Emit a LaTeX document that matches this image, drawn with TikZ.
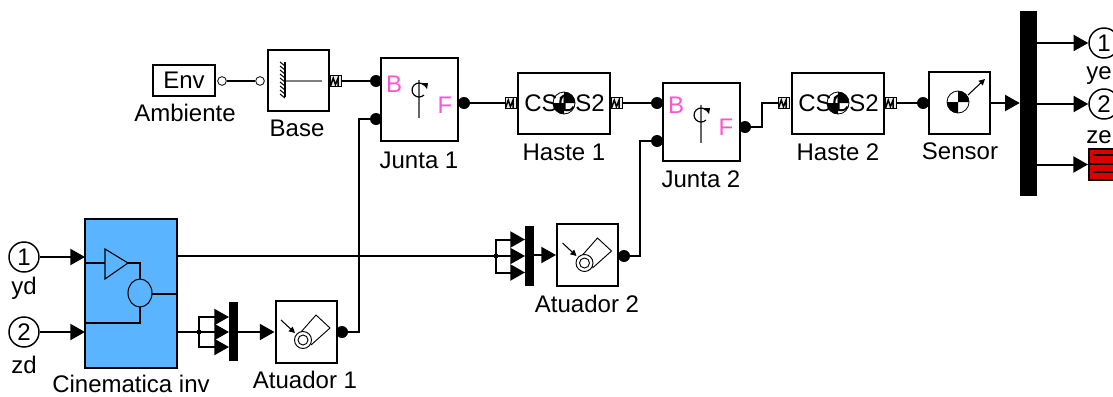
\documentclass[tikz,border=0pt]{standalone}
\usepackage{fontspec}
\setmainfont{Liberation Sans}
\usetikzlibrary{arrows.meta}
\definecolor{azulbloco}{RGB}{90,180,255}
\definecolor{rosa}{RGB}{255,85,205}
\definecolor{vermelho}{RGB}{220,0,0}
\tikzset{
	fio/.style={line width=1.5pt},
	seta/.style={fio,-{Triangle[length=11pt,width=12pt]}},
	setinha/.style={line width=0.8pt,-{Triangle[length=4.5pt,width=4.5pt]}},
	bloco/.style 2 args={draw,line width=1.5pt,inner sep=0pt,minimum width=#1*0.75pt,minimum height=#2*0.75pt},
	barra/.style 2 args={fill=black,inner sep=0pt,minimum width=#1*0.75pt,minimum height=#2*0.75pt},
	rotulo/.style={inner sep=0pt,font=\fontsize{18}{20}\selectfont},
	letra/.style={rotulo,text=rosa},
	pino/.style={circle,fill=black,inner sep=0pt,minimum size=9pt},
	anel/.style={circle,draw,fill=white,line width=0.6pt,inner sep=0pt,minimum size=6.5pt},
	porto/.style={circle,draw,line width=1.1pt,inner sep=0pt,minimum size=22.5pt,rotulo},
	porta/.style={draw,fill=black!8,line width=0.8pt,inner sep=0pt,minimum size=8.5pt,
		path picture={\draw[line width=1.1pt] (path picture bounding box.south west) -- ++(2.2pt,6.5pt) -- ++(1.6pt,-5pt) -- ++(2pt,5pt) -- ++(0pt,-6.5pt);}},
}
\newcommand{\cgicone}[3]{
	\draw[line width=0.6pt] (#1,#2) circle (#3);
	\fill (#1,#2) -- ++(-#3,0) arc (180:90:#3) -- cycle;
	\fill (#1,#2) -- ++(#3,0) arc (0:-90:#3) -- cycle;
}
\newcommand{\atuadoricone}[2]{
	\begin{scope}[shift={(#1,#2)}]
		\draw[line width=0.7pt] (-5,0) -- (10,-17) -- (24,-4) -- (5,13);
		\draw[line width=0.7pt,fill=white] (-3,8) circle (8.5);
		\draw[line width=0.7pt] (-3,8) circle (5);
		\draw[setinha] (-25,-12) -- (-11,1);
	\end{scope}
}
\begin{document}
\begin{tikzpicture}[x=0.75pt,y=-0.75pt]
	\useasboundingbox (0,0) rectangle (1113,396);
	\clip (0,0) rectangle (1113,396);
	\node[bloco={62}{31}] (amb) at (184,80.5) {};
	\node[rotulo] (ambtxt) at (184,80.5) {Env};
	\node[bloco={61}{61}] (base) at (298.5,80.5) {};
	\node[bloco={77}{83}] (j1) at (419.5,99.5) {};
	\node[bloco={92}{61}] (h1) at (564,103.5) {};
	\node[bloco={77}{78}] (j2) at (701.5,122) {};
	\node[bloco={92}{61}] (h2) at (838,103.5) {};
	\node[bloco={61}{62}] (sen) at (959.5,103) {};
	\node[bloco={61}{62}] (at1) at (306,332) {};
	\node[bloco={61}{62}] (at2) at (587.5,255) {};
	\node[bloco={92}{149},fill=azulbloco] (cin) at (131,293.5) {};
	\node[barra={17}{185}] (dem) at (1028.5,103.5) {};
	\node[barra={9}{59}] (mux1) at (233.5,331.5) {};
	\node[barra={9}{60}] (mux2) at (529.5,256) {};
	\node[porto] (in1) at (24,257) {1};
	\node[porto] (in2) at (24,332) {2};
	\node[porto] (out1) at (1104,43) {1};
	\node[porto] (out2) at (1104,104) {2};
	\node[bloco={30}{31},fill=vermelho] (term) at (1104,164.5) {};
	\draw[line width=1.4pt] (1093,155) -- (1113,155);
	\draw[line width=1.4pt] (1089,164) -- (1113,164);
	\draw[line width=1.4pt] (1093,172) -- (1113,172);
	\node[rotulo] (lamb) at (185,113) {Ambiente};
	\node[rotulo] (lbase) at (297,128) {Base};
	\node[rotulo] (lj1) at (419,160) {Junta 1};
	\node[rotulo] (lh1) at (564,152) {Haste 1};
	\node[rotulo] (lj2) at (701,179) {Junta 2};
	\node[rotulo] (lh2) at (838,152) {Haste 2};
	\node[rotulo] (lsen) at (960,151) {Sensor};
	\node[rotulo] (lat1) at (305,380) {Atuador 1};
	\node[rotulo] (lat2) at (587,304) {Atuador 2};
	\node[rotulo] (lcin) at (131,384) {Cinematica inv};
	\node[rotulo] (lyd) at (24,288) {yd};
	\node[rotulo] (lzd) at (24,365) {zd};
	\node[rotulo,anchor=east] (lye) at (1112,76) {ye};
	\node[rotulo,anchor=east] (lze) at (1112,137) {ze};
	\node[letra] (b1) at (394,84) {B};
	\node[letra] (f1) at (445,105) {F};
	\node[letra] (b2) at (676,105) {B};
	\node[letra] (f2) at (726,127) {F};
	\foreach \x/\y in {419/80,701/105} {
		\draw[line width=1pt,black!60] (\x,\y) -- (\x,\y+38);
		\draw[line width=0.9pt] (\x+5,\y+15) arc (45:315:7);
		\fill (\x+3,\y+3) -- (\x+9,\y+3) -- (\x+8,\y+9) -- cycle;
	}
	\foreach \x in {564,838} {
		\node[rotulo,anchor=west] (cs\x a) at (\x-40,103) {CS1};
		\node[rotulo,anchor=east] (cs\x b) at (\x+41,103) {CS2};
		\cgicone{\x}{103}{11}
	}
	\draw[line width=1.5pt,black!50] (285,81) -- (322,81);
	\draw[line width=1pt] (285,62) -- (285,97);
	\foreach \y in {62,66,...,94} {
		\draw[line width=0.8pt] (280,\y) -- (285,\y+4);
	}
	\cgicone{958}{102}{11}
	\draw[setinha] (968,95) -- (985,79);
	\atuadoricone{306}{332}
	\atuadoricone{587.5}{255}
	\draw[line width=0.8pt] (105,249) -- (105,279) -- (128,263) -- cycle;
	\draw[line width=0.8pt] (140,293) ellipse (12 and 14);
	\draw[line width=0.8pt] (85,263) -- (105,263);
	\draw[line width=0.8pt] (128,263) -- (140,263) -- (140,279);
	\draw[line width=0.8pt] (152,294) -- (177,294);
	\draw[line width=0.8pt] (140,307) -- (140,323) -- (85,323);
	\node[anel] (ambp) at (222,81) {};
	\node[anel] (basee) at (260,81) {};
	\node[porta] (bases) at (336,81) {};
	\node[pino] (j1b) at (376,81) {};
	\node[pino] (j1c) at (376,119) {};
	\node[pino] (j1f) at (464,103) {};
	\node[porta] (h1e) at (511,103) {};
	\node[porta] (h1s) at (617,103) {};
	\node[pino] (j2b) at (657,103) {};
	\node[pino] (j2c) at (657,141) {};
	\node[pino] (j2f) at (745,127) {};
	\node[porta] (h2e) at (784,103) {};
	\node[porta] (h2s) at (891,103) {};
	\node[pino] (sene) at (923,103) {};
	\node[pino] (at1s) at (342,332) {};
	\node[pino] (at2s) at (624,256) {};
	\coordinate (cins1) at (177,256);
	\coordinate (cins2) at (177,332);
	\coordinate (cine1) at (85,257);
	\coordinate (cine2) at (85,332);
	\coordinate (desvj2) at (762,103);
	\coordinate (desva1) at (359,119);
	\coordinate (desva2) at (640,141);
	\coordinate (r1) at (199,332);
	\coordinate (r2) at (496,256);
	\draw[fio] (ambp) -- (basee);
	\draw[fio] (bases) -- (j1b);
	\draw[fio] (j1f) -- (h1e);
	\draw[fio] (h1s) -- (j2b);
	\draw[fio] (j2f) -| (desvj2) -- (h2e);
	\draw[fio] (h2s) -- (sene);
	\draw[fio] (at1s) -| (desva1) -- (j1c);
	\draw[fio] (at2s) -| (desva2) -- (j2c);
	\draw[seta] (in1) -- (cine1);
	\draw[seta] (in2) -- (cine2);
	\draw[fio] (cins2) -- (r1);
	\draw[fio] (cins1) -- (r2);
	\fill (r1) circle (2.5);
	\fill (r2) circle (2.5);
	\foreach \dy/\nome in {-15/a,0/b,15/c} {
		\coordinate (m1\nome) at (229,332+\dy);
		\coordinate (m2\nome) at (525,256+1.1*\dy);
		\draw[seta] (r1) -- (199,332+\dy) -- (m1\nome);
		\draw[seta] (r2) -- (496,256+1.1*\dy) -- (m2\nome);
	}
	\draw[seta] (mux1.east |- at1.west) -- (at1.west);
	\draw[seta] (mux2.east |- at2.west) -- (at2.west);
	\draw[seta] (sen.east) -- (sen.east -| dem.west);
	\draw[seta] (dem.east |- out1.west) -- (out1.west);
	\draw[seta] (dem.east |- out2.west) -- (out2.west);
	\draw[seta] (dem.east |- term.west) -- (term.west);
\end{tikzpicture}
\end{document}
